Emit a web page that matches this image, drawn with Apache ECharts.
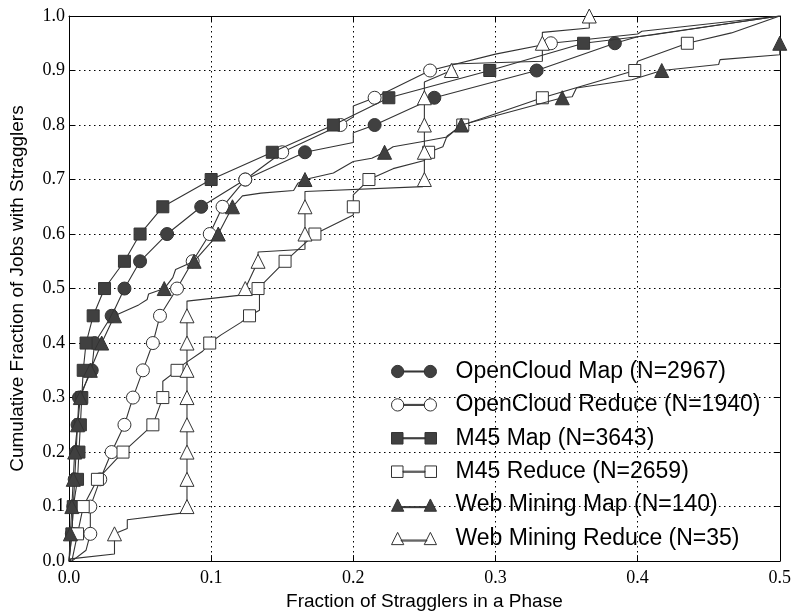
<!DOCTYPE html>
<html><head><meta charset="utf-8">
<script src="https://cdn.jsdelivr.net/npm/echarts@6/dist/echarts.min.js"></script>
<style>html,body{margin:0;padding:0;background:#fff}#c{width:794px;height:616px}</style>
</head><body><div id="c"></div>
<script>
// Cumulative fraction levels where markers are drawn
const levels = [0.05,0.10,0.15,0.20,0.25,0.30,0.35,0.40,0.45,0.50,0.55,0.60,0.65,0.70,0.75,0.80,0.85,0.90,0.95];
const wmRedLevels = [0.05,0.10,0.15,0.20,0.25,0.30,0.35,0.40,0.45,0.50,0.55,0.60,0.65,0.70,0.75,0.80,0.85,0.90,0.95,1.00];

// x (fraction of stragglers) at each marker level
const ocMapX = [0.002,0.003,0.004,0.005,0.006,0.007,0.016,0.018,0.030,0.039,0.050,0.069,0.093,0.124,0.166,0.215,0.257,0.329,0.384];
const ocRedX = [0.015,0.015,0.022,0.030,0.039,0.045,0.052,0.059,0.064,0.076,0.087,0.099,0.108,0.124,0.150,0.191,0.215,0.254,0.339];
const m45MapX = [0.002,0.003,0.006,0.007,0.008,0.009,0.010,0.012,0.017,0.025,0.039,0.050,0.066,0.100,0.143,0.186,0.225,0.296,0.362];
const m45RedX = [0.006,0.010,0.020,0.038,0.059,0.066,0.076,0.099,0.127,0.133,0.152,0.173,0.200,0.211,0.253,0.277,0.333,0.398,0.435];
const wmMapX = [0.001,0.002,0.003,0.004,0.006,0.008,0.015,0.023,0.032,0.067,0.088,0.105,0.115,0.166,0.222,0.276,0.347,0.417,0.500];
const wmRedX = [0.032,0.083,0.083,0.083,0.083,0.083,0.083,0.083,0.083,0.124,0.133,0.166,0.166,0.250,0.250,0.250,0.250,0.269,0.333,0.366];

// additional curve points (no marker) [x, cumulative fraction]
const ocMapPath = [[0,0],[0.2,0.768],[0.2,0.786],[0.40,0.962],[0.5,1]];
const ocRedPath = [[0.002,0],[0.012,0.02],[0.2,0.815],[0.2,0.835],[0.30,0.93],[0.40,0.967],[0.403,0.972],[0.5,1]];
const m45MapPath = [[0,0],[0.41,0.965],[0.5,1]];
const m45RedPath = [[0.002,0],[0.066,0.33],[0.080,0.36],[0.094,0.385],[0.107,0.415],[0.121,0.438],[0.134,0.46],[0.134,0.488],[0.2,0.635],[0.2,0.672],[0.228,0.72],[0.25,0.735],[0.263,0.76],[0.266,0.78],[0.40,0.917],[0.466,0.969],[0.5,1]];
const wmMapPath = [[0,0],[0.049,0.47],[0.055,0.48],[0.056,0.49],[0.073,0.52],[0.075,0.535],[0.122,0.67],[0.135,0.675],[0.158,0.68],[0.161,0.693],[0.186,0.712],[0.2,0.733],[0.213,0.739],[0.228,0.76],[0.247,0.769],[0.266,0.778],[0.354,0.852],[0.357,0.868],[0.396,0.883],[0.457,0.911],[0.458,0.92],[0.5,0.929]];
const wmRedPath = [[0.001,0],[0.001,0.004],[0.032,0.013],[0.041,0.06],[0.041,0.076],[0.079,0.088],[0.083,0.477],[0.121,0.488],[0.133,0.567],[0.166,0.572],[0.166,0.678],[0.249,0.687],[0.25,0.879],[0.269,0.912],[0.333,0.917],[0.333,0.97],[0.366,0.978]];

const seriesNames = ['OpenCloud Map (N=2967)','OpenCloud Reduce (N=1940)','M45 Map (N=3643)','M45 Reduce (N=2659)','Web Mining Map (N=140)','Web Mining Reduce (N=35)'];
const xTicks = [0,0.1,0.2,0.3,0.4,0.5];
const yTicks = [0,0.1,0.2,0.3,0.4,0.5,0.6,0.7,0.8,0.9,1.0];

const seriesX = [ocMapX, ocRedX, m45MapX, m45RedX, wmMapX, wmRedX];
const seriesY = [levels, levels, levels, levels, levels, wmRedLevels];
const seriesPath = [ocMapPath, ocRedPath, m45MapPath, m45RedPath, wmMapPath, wmRedPath];

const DARK = '#404040', EDGE = '#333333';
const styles = [
  {symbol:'circle', size:13, fill:DARK},
  {symbol:'circle', size:13, fill:'#ffffff'},
  {symbol:'rect', size:12, fill:DARK},
  {symbol:'rect', size:12, fill:'#ffffff'},
  {symbol:'triangle', size:14, fill:DARK},
  {symbol:'triangle', size:14, fill:'#ffffff'}
];
const icons = {
  circle: 'path://M0.5,6.5 A6,6 0 1,1 12.5,6.5 A6,6 0 1,1 0.5,6.5 Z M12.5,6 L32.5,6 L32.5,7 L12.5,7 Z M32.5,6.5 A6,6 0 1,1 44.5,6.5 A6,6 0 1,1 32.5,6.5 Z',
  rect: 'path://M1,1 L12,1 L12,12 L1,12 Z M12,6 L33,6 L33,7 L12,7 Z M33,1 L44,1 L44,12 L33,12 Z',
  triangle: 'path://M6.5,0.5 L12.5,12.5 L0.5,12.5 Z M10,8 L35,8 L35,9 L10,9 Z M38.5,0.5 L44.5,12.5 L32.5,12.5 Z'
};

function build(xs, ys, extra, symbol) {
  const pts = xs.map((x, i) => ({ value: [x, ys[i]], symbol: symbol }));
  extra.forEach(p => pts.push({ value: [p[0], p[1]], symbol: 'none' }));
  pts.sort((a, b) => (a.value[1] - b.value[1]) || (a.value[0] - b.value[0]));
  return pts;
}

const series = seriesNames.map((name, i) => ({
  type: 'line', name: name,
  xAxisIndex: 0, yAxisIndex: 0,
  data: build(seriesX[i], seriesY[i], seriesPath[i], styles[i].symbol),
  symbolSize: styles[i].size,
  showSymbol: true, showAllSymbol: true,
  clip: true,
  z: 3 + i,
  itemStyle: { color: styles[i].fill, borderColor: EDGE, borderWidth: 1 },
  lineStyle: { color: EDGE, width: 1.1 },
  emphasis: { disabled: true },
  animation: false
}));

const axisCommon = {
  axisLine: { show: true, onZero: false, lineStyle: { color: '#000', width: 1 } },
  axisTick: { show: true, inside: true, length: 6, lineStyle: { color: '#000', width: 1 } }
};
const labelStyle = { fontFamily: 'Liberation Serif', fontSize: 18, color: '#000' };
const titleStyle = { fontFamily: 'Liberation Sans', fontSize: 19, color: '#000' };
const gridLine = { show: true, lineStyle: { color: '#000', width: 1, type: [1.5, 3.5] } };

const chart = echarts.init(document.getElementById('c'), null, { renderer: 'canvas' });
chart.setOption({
  animation: false,
  backgroundColor: '#fff',
  grid: { left: 66, right: 11.5, top: 16, bottom: 46, containLabel: false },
  xAxis: [
    Object.assign({}, axisCommon, {
      type: 'value', min: xTicks[0], max: xTicks[xTicks.length - 1], interval: 0.1, position: 'bottom',
      axisLabel: Object.assign({ formatter: v => v.toFixed(1), margin: 8 }, labelStyle),
      splitLine: gridLine,
      name: 'Fraction of Stragglers in a Phase', nameLocation: 'middle', nameGap: 26, nameTextStyle: titleStyle
    }),
    Object.assign({}, axisCommon, {
      type: 'value', min: xTicks[0], max: xTicks[xTicks.length - 1], interval: 0.1, position: 'top',
      axisLabel: { show: false }, splitLine: { show: false }
    })
  ],
  yAxis: [
    Object.assign({}, axisCommon, {
      type: 'value', min: yTicks[0], max: yTicks[yTicks.length - 1], interval: 0.1, position: 'left',
      axisLabel: Object.assign({ formatter: v => v.toFixed(1), margin: 4 }, labelStyle),
      splitLine: gridLine,
      name: 'Cumulative Fraction of Jobs with Stragglers', nameLocation: 'middle', nameGap: 42, nameRotate: 90, nameTextStyle: titleStyle
    }),
    Object.assign({}, axisCommon, {
      type: 'value', min: yTicks[0], max: yTicks[yTicks.length - 1], interval: 0.1, position: 'right',
      axisLabel: { show: false }, splitLine: { show: false }
    })
  ],
  legend: {
    orient: 'vertical', left: 391, top: 360, padding: 0,
    itemGap: 10.4, itemWidth: 45, itemHeight: 13,
    selectedMode: false,
    textStyle: { fontFamily: 'Liberation Sans', fontSize: 23, color: '#000', lineHeight: 23, padding: [0, 0, 0, 14] },
    data: seriesNames.map((n, i) => ({
      name: n, icon: icons[styles[i].symbol],
      itemStyle: { color: styles[i].fill, borderColor: EDGE, borderWidth: 1 }
    }))
  },
  series: series
});
</script>
</body></html>
